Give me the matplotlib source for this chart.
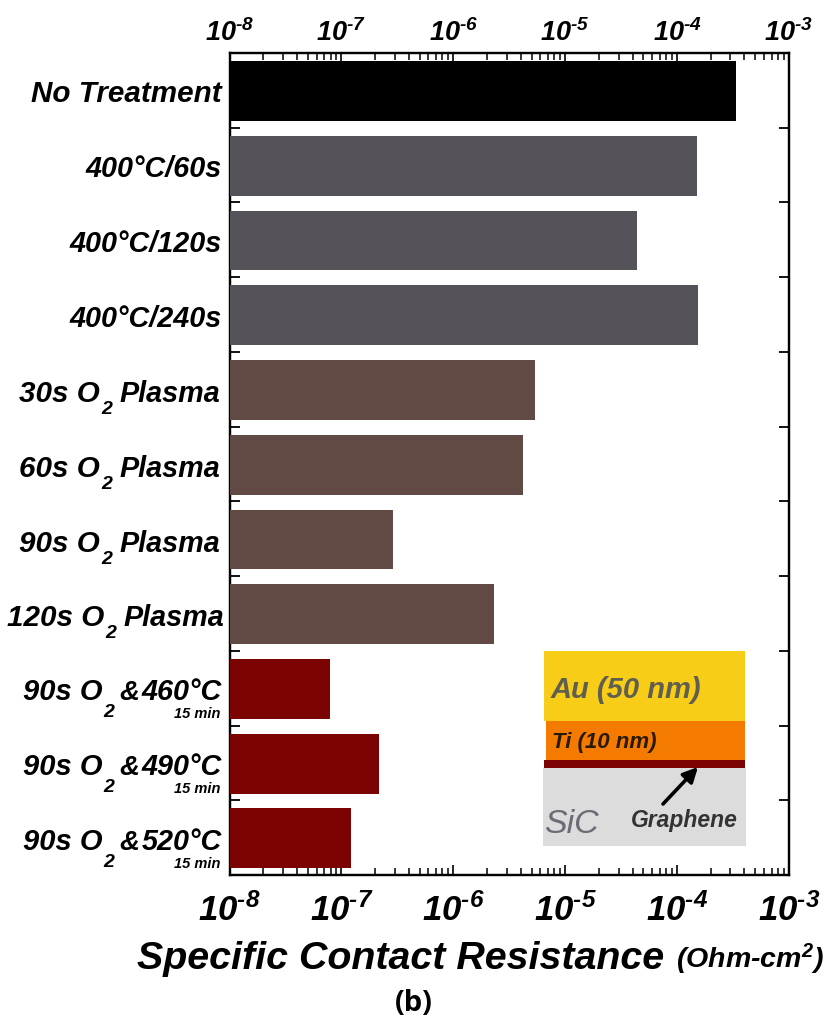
import matplotlib
matplotlib.use("Agg")
import matplotlib.pyplot as plt
from matplotlib.patches import Rectangle
from matplotlib.ticker import LogLocator, NullFormatter

plt.rcParams['font.family'] = ['Liberation Sans', 'DejaVu Sans']
plt.rcParams['mathtext.fontset'] = 'custom'
plt.rcParams['mathtext.rm'] = 'Liberation Sans:italic:bold'
plt.rcParams['mathtext.it'] = 'Liberation Sans:italic:bold'
plt.rcParams['mathtext.bf'] = 'Liberation Sans:italic:bold'
plt.rcParams['mathtext.default'] = 'rm'

labels = ['No Treatment', '400°C/60s', '400°C/120s', '400°C/240s']
plasma_times = ['30s', '60s', '90s', '120s']
anneal_temps = ['460', '490', '520']
resistance = [3.36e-4, 1.51e-4, 4.4e-5, 1.55e-4, 5.4e-6, 4.2e-6, 2.9e-7, 2.3e-6, 7.9e-8, 2.15e-7, 1.22e-7]
bar_colors = ['#000000'] + ['#55525a'] * 3 + ['#614a43'] * 4 + ['#7b0303'] * 3
decades = [1e-8, 1e-7, 1e-6, 1e-5, 1e-4, 1e-3]
decade_labels = ['$10^{\\text{-8}}$', '$10^{\\text{-7}}$', '$10^{\\text{-6}}$',
                 '$10^{\\text{-5}}$', '$10^{\\text{-4}}$', '$10^{\\text{-3}}$']

W, H = 830, 1022
L, R, T, B = 229.5, 789, 53, 875
ROW = (B - T) / 11

fig = plt.figure(figsize=(W / 100, H / 100), dpi=100)
ax = fig.add_axes([L / W, 1 - B / H, (R - L) / W, (B - T) / H])

def px(x):
    return (x - L) / (R - L)

def py(y):
    return (B - y) / (B - T)

ax.set_xscale('log')
ypos = list(range(len(resistance)))
ax.barh([y + 0.51 for y in ypos], resistance, height=0.8, color=bar_colors, zorder=3)
ax.set_xlim(1e-8, 1e-3)
ax.set_ylim(11, 0)

subs = [2, 3, 4, 5, 6, 7, 8, 9]
top = ax.twiny()
top.set_xscale('log')
top.set_xlim(1e-8, 1e-3)
for a, size, pad in ((ax, 25, 13), (top, 19.5, 4)):
    a.set_xticks(decades)
    a.set_xticklabels(decade_labels, fontsize=size)
    a.xaxis.set_minor_locator(LogLocator(base=10, subs=subs, numticks=12))
    a.xaxis.set_minor_formatter(NullFormatter())
    a.tick_params(axis='x', which='major', direction='in', length=7.5, width=1.2, pad=pad)
    a.tick_params(axis='x', which='minor', direction='in', length=5, width=1.1)
ax.set_zorder(top.get_zorder() + 1)
ax.patch.set_visible(False)

ax.set_yticks(range(1, 11))
ax.set_yticklabels([])
ax.tick_params(axis='y', which='both', direction='in', length=7, width=1.3, left=True, right=True)
for a in (ax, top):
    for s in a.spines.values():
        s.set_linewidth(1.6)

style = dict(fontweight='bold', fontstyle='italic', color='black', transform=ax.transAxes,
             va='baseline')

# plain labels on the top rows
for i, lab in enumerate(labels):
    size = 21.3 if i == 0 else 20.7
    ax.text(px(222), py(T + ROW * (i + 0.5) + 12), lab, ha='right', fontsize=size, **style)

# O2 labels, the subscript sits low so it is placed by hand
for i, t in enumerate(plasma_times):
    yc = T + ROW * (i + 4.5) + 13
    shift = 4 if t == '120s' else 0
    ax.text(px(100 + shift), py(yc), t + ' O', ha='right', fontsize=21.3, **style)
    ax.text(px(101 + shift), py(yc + 12), '2', ha='left', fontsize=14, **style)
    ax.text(px(119 + shift), py(yc), 'Plasma', ha='left', fontsize=20.7, **style)

for i, t in enumerate(anneal_temps):
    yc = T + ROW * (i + 8.5) + 12
    ax.text(px(102), py(yc), '90s O', ha='right', fontsize=21, **style)
    ax.text(px(103), py(yc + 17), '2', ha='left', fontsize=14, **style)
    ax.text(px(119), py(yc), '&', ha='left', fontsize=20, **style)
    ax.text(px(222), py(yc), t + '°C', ha='right', fontsize=20.7, **style)
    ax.text(px(220), py(yc + 18), '15 min', ha='right', fontsize=10.5, **style)

# layer stack inset
layers = [(544, 651, 745, 721, '#f8cd17'), (546, 721, 745, 760, '#f47b00'),
          (544, 760, 745, 768, '#7b0303'), (543, 768, 746, 846, '#dcdcdc')]
for x0, y0, x1, y1, c in layers:
    ax.add_patch(Rectangle((px(x0), py(y1)), px(x1) - px(x0), py(y0) - py(y1),
                           transform=ax.transAxes, facecolor=c, edgecolor='none', zorder=4))
ax.text(px(551), py(698), 'Au (50 nm)', ha='left', fontsize=21, zorder=5, **{**style, 'color': '#5f5f50'})
ax.text(px(552), py(748), 'Ti (10 nm)', ha='left', fontsize=16, zorder=5, **{**style, 'color': '#2a1a05'})
ax.text(px(544), py(833), 'SiC', ha='left', fontsize=24.5, zorder=5, **{**style, 'color': '#6b6b75', 'fontweight': 'normal'})
ax.text(px(631), py(827), 'Graphene', ha='left', fontsize=16.5, zorder=5, **{**style, 'color': '#333333'})
ax.annotate('', xy=(px(698), py(767)), xytext=(px(663), py(804)), xycoords='axes fraction',
            textcoords='axes fraction', zorder=6,
            arrowprops=dict(arrowstyle='-|>', color='black', lw=2.6, mutation_scale=22, shrinkA=0, shrinkB=0))

# axis title
fig.text(137 / W, 1 - 969 / H, 'Specific Contact Resistance', ha='left', va='baseline',
         fontsize=28.4, fontweight='bold', fontstyle='italic')
fig.text(676 / W, 1 - 968 / H, '(Ohm-cm$^{2}$)', ha='left', va='baseline',
         fontsize=20.5, fontweight='bold', fontstyle='italic')
fig.text(414 / W, 1 - 1003 / H, '(b)', ha='center', va='center', fontsize=21,
         fontweight='bold', family=['Open Sans', 'DejaVu Sans'])

fig.savefig('out.png', dpi=100)
